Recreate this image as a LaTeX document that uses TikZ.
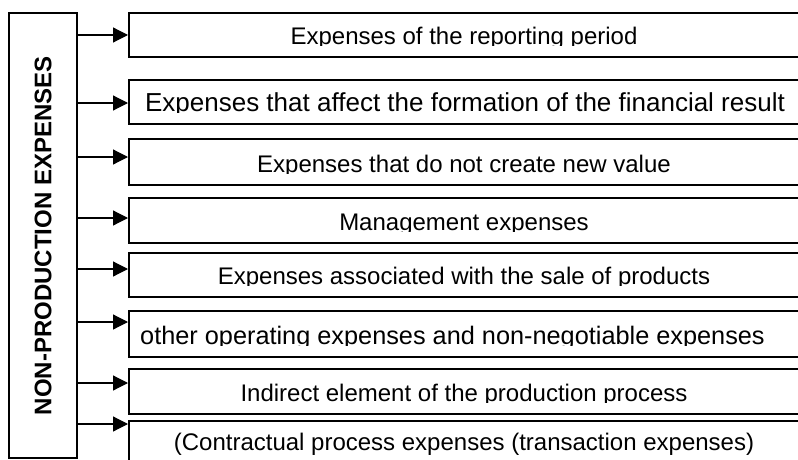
\documentclass[tikz,border=0pt]{standalone}
\usepackage{fontspec}
\setmainfont{Liberation Sans}
\usetikzlibrary{arrows.meta}
\begin{document}
\begin{tikzpicture}[x=1pt,y=-1pt,
  mainbox/.style={draw, line width=2.4pt, anchor=north west, minimum width=68pt, minimum height=445pt, inner sep=0pt},
  itembox/.style={draw, line width=2.4pt, anchor=north west, minimum width=680pt, inner sep=0pt},
  lbl/.style={anchor=base, inner sep=0pt, font=\fontsize{24}{28}\selectfont},
  arr/.style={line width=1.2pt, -{Triangle[length=15pt,width=15pt]}}]
\useasboundingbox (0,0) rectangle (798,460);
\clip (0,0) rectangle (798,460);
\fill[white] (0,0) rectangle (798,460);
% left box
\node[mainbox] (main) at (8,12) {};
\node[rotate=90, inner sep=0pt, font=\bfseries\fontsize{24}{28}\selectfont] (mtxt) at (main.center) {NON-PRODUCTION EXPENSES};
% item boxes
\node[itembox, minimum height=44pt] (b1) at (128,12) {};
\node[itembox, minimum height=44pt] (b2) at (128,79) {};
\node[itembox, minimum height=46pt] (b3) at (128,138) {};
\node[itembox, minimum height=45pt] (b4) at (128,197) {};
\node[itembox, minimum height=44pt] (b5) at (128,252) {};
\node[itembox, minimum height=46pt] (b6) at (128,310) {};
\node[itembox, minimum height=45pt] (b7) at (128,368) {};
\node[itembox, minimum height=45pt] (b8) at (128,420) {};
% texts (clipped at the baseline as in the reference)
\begin{scope}\clip (128,12) rectangle (798,46);
\node[lbl] (t1) at (464,45) {Expenses of the reporting period};\end{scope}
\begin{scope}\clip (128,79) rectangle (798,112.5);
\node[lbl, font=\fontsize{26}{30}\selectfont] (t2) at (465,111.5) {Expenses that affect the formation of the financial result};\end{scope}
\begin{scope}\clip (128,138) rectangle (798,173.5);
\node[lbl] (t3) at (464,172.5) {Expenses that do not create new value};\end{scope}
\begin{scope}\clip (128,197) rectangle (798,231.5);
\node[lbl] (t4) at (464,230.5) {Management expenses};\end{scope}
\begin{scope}\clip (128,252) rectangle (798,285.5);
\node[lbl] (t5) at (464,284.5) {Expenses associated with the sale of products};\end{scope}
\begin{scope}\clip (128,310) rectangle (798,345.5);
\node[lbl, font=\fontsize{25.3}{30}\selectfont] (t6) at (452.5,344.5) {other operating expenses and non-negotiable expenses};\end{scope}
\begin{scope}\clip (128,368) rectangle (798,402.5);
\node[lbl] (t7) at (464,401.5) {Indirect element of the production process};\end{scope}
\node[lbl] (t8) at (464,450) {(Contractual process expenses (transaction expenses)};
% arrows
\draw[arr] (main.east |- 0,35) -- (b1.west |- 0,35);
\draw[arr] (main.east |- 0,103) -- (b2.west |- 0,103);
\draw[arr] (main.east |- 0,157) -- (b3.west |- 0,157);
\draw[arr] (main.east |- 0,218) -- (b4.west |- 0,218);
\draw[arr] (main.east |- 0,269) -- (b5.west |- 0,269);
\draw[arr] (main.east |- 0,322) -- (b6.west |- 0,322);
\draw[arr] (main.east |- 0,383) -- (b7.west |- 0,383);
\draw[arr] (main.east |- 0,424) -- (b8.west |- 0,424);
\end{tikzpicture}
\end{document}
